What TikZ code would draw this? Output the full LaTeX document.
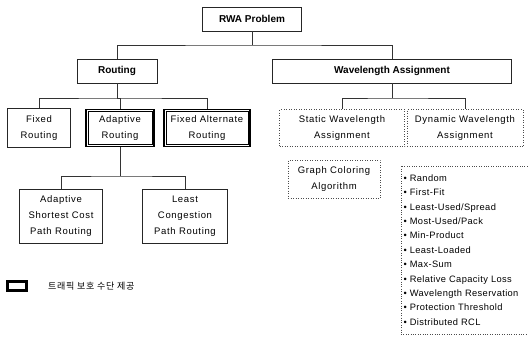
\documentclass[tikz,border=0pt]{standalone}
\usepackage{fontspec}
\setmainfont{Liberation Sans}
\newfontfamily\kofont{Noto Sans CJK KR}
\usepackage{tikz}
\usetikzlibrary{arrows,backgrounds,fit}

\tikzset{
  box/.style={draw=black!85, line width=0.5pt, inner sep=0pt, align=center,
    font=\fontsize{9.5}{16}\selectfont\addfontfeature{LetterSpace=7}},
  headbox/.style={box, font=\fontsize{10}{11}\selectfont\bfseries},
  protbox/.style={box, draw=black, line width=1.3pt},
  inner/.style={draw=black, line width=0.5pt},
  dotbox/.style={box, dotted, draw=black!70},
  link/.style={draw=black!80, line width=0.5pt}
}

\begin{document}
\begin{tikzpicture}[x=1pt,y=-1pt]
  \useasboundingbox (0,0) rectangle (532,340);

  % top levels
  \draw (252,19) node[headbox, minimum width=99pt, minimum height=24pt] (rwa) {RWA Problem};
  \draw (117,71) node[headbox, minimum width=80pt, minimum height=24pt] (routing) {Routing};
  \draw (392,71) node[headbox, minimum width=239pt, minimum height=24pt] (wa) {Wavelength Assignment};

  % routing
  \draw (39,128) node[box, minimum width=63pt, minimum height=39pt] (fixed) {Fixed\\Routing};
  \draw (120,128) node[protbox, minimum width=68pt, minimum height=37pt] (adaptive) {Adaptive\\Routing};
  \draw (207,128) node[protbox, minimum width=86pt, minimum height=37pt] (falt) {Fixed Alternate\\Routing};
  \draw[inner] ([shift={(2.5pt,-2.5pt)}]adaptive.north west) rectangle ([shift={(-2.5pt,2.5pt)}]adaptive.south east);
  \draw[inner] ([shift={(2.5pt,-2.5pt)}]falt.north west) rectangle ([shift={(-2.5pt,2.5pt)}]falt.south east);
  \draw (61,216) node[box, minimum width=83pt, minimum height=54pt] (ascp) {Adaptive\\Shortest Cost\\Path Routing};
  \draw (185,216) node[box, minimum width=85pt, minimum height=54pt] (lcp) {Least\\Congestion\\Path Routing};

  % wavelength assignment
  \draw (342,128) node[dotbox, minimum width=125pt, minimum height=37pt] (static) {Static Wavelength\\Assignment};
  \draw (465,128) node[dotbox, minimum width=116pt, minimum height=37pt] (dynamic) {Dynamic Wavelength\\Assignment};
  \draw (334,179) node[dotbox, minimum width=92pt, minimum height=38pt] (gca) {Graph Coloring\\Algorithm};
  \draw (464,250) node[box, draw=none, minimum width=126pt, minimum height=168pt,
    text width=121pt, align=left, font=\fontsize{9.3}{14.4}\selectfont\addfontfeature{LetterSpace=4}] (dynlist)
    {\textbullet\ Random\\ \textbullet\ First-Fit\\ \textbullet\ Least-Used/Spread\\
     \textbullet\ Most-Used/Pack\\ \textbullet\ Min-Product\\ \textbullet\ Least-Loaded\\
     \textbullet\ Max-Sum\\ \textbullet\ Relative Capacity Loss\\ \textbullet\ Wavelength Reservation\\
     \textbullet\ Protection Threshold\\ \textbullet\ Distributed RCL};
  \draw[dotted, draw=black!70] (dynlist.north east) -- (dynlist.north west)
    -- (dynlist.south west) -- (dynlist.south east);

  % legend
  \draw (17,286) node[protbox, minimum width=20pt, minimum height=10pt] (legbox) {};
  \draw[inner] ([shift={(2pt,-2pt)}]legbox.north west) rectangle ([shift={(-2pt,2pt)}]legbox.south east);
  \draw (legbox.east) node[anchor=west, xshift=17pt, font=\kofont\fontsize{9}{10}\selectfont\addfontfeature{LetterSpace=8}] (legtext) {트래픽 보호 수단 제공};

  % connectors
  \coordinate (rj) at (252,45);
  \coordinate (roj) at (117,98);
  \coordinate (aj) at (120,176);
  \coordinate (wj) at (392,98);
  \draw[link] (rwa.south) -- (rj);
  \draw[link] (routing.north) |- (rj) -| (wa.north);
  \draw[link] (routing.south) -- (roj);
  \draw[link] (fixed.north) |- (roj) -| (falt.north);
  \draw[link] (roj) -| (adaptive.north);
  \draw[link] (adaptive.south) -- (aj);
  \draw[link] (ascp.north) |- (aj) -| (lcp.north);
  \draw[link] (wa.south) -- (wj);
  \draw[link] (static.north) |- (wj) -| (dynamic.north);
\end{tikzpicture}
\end{document}
